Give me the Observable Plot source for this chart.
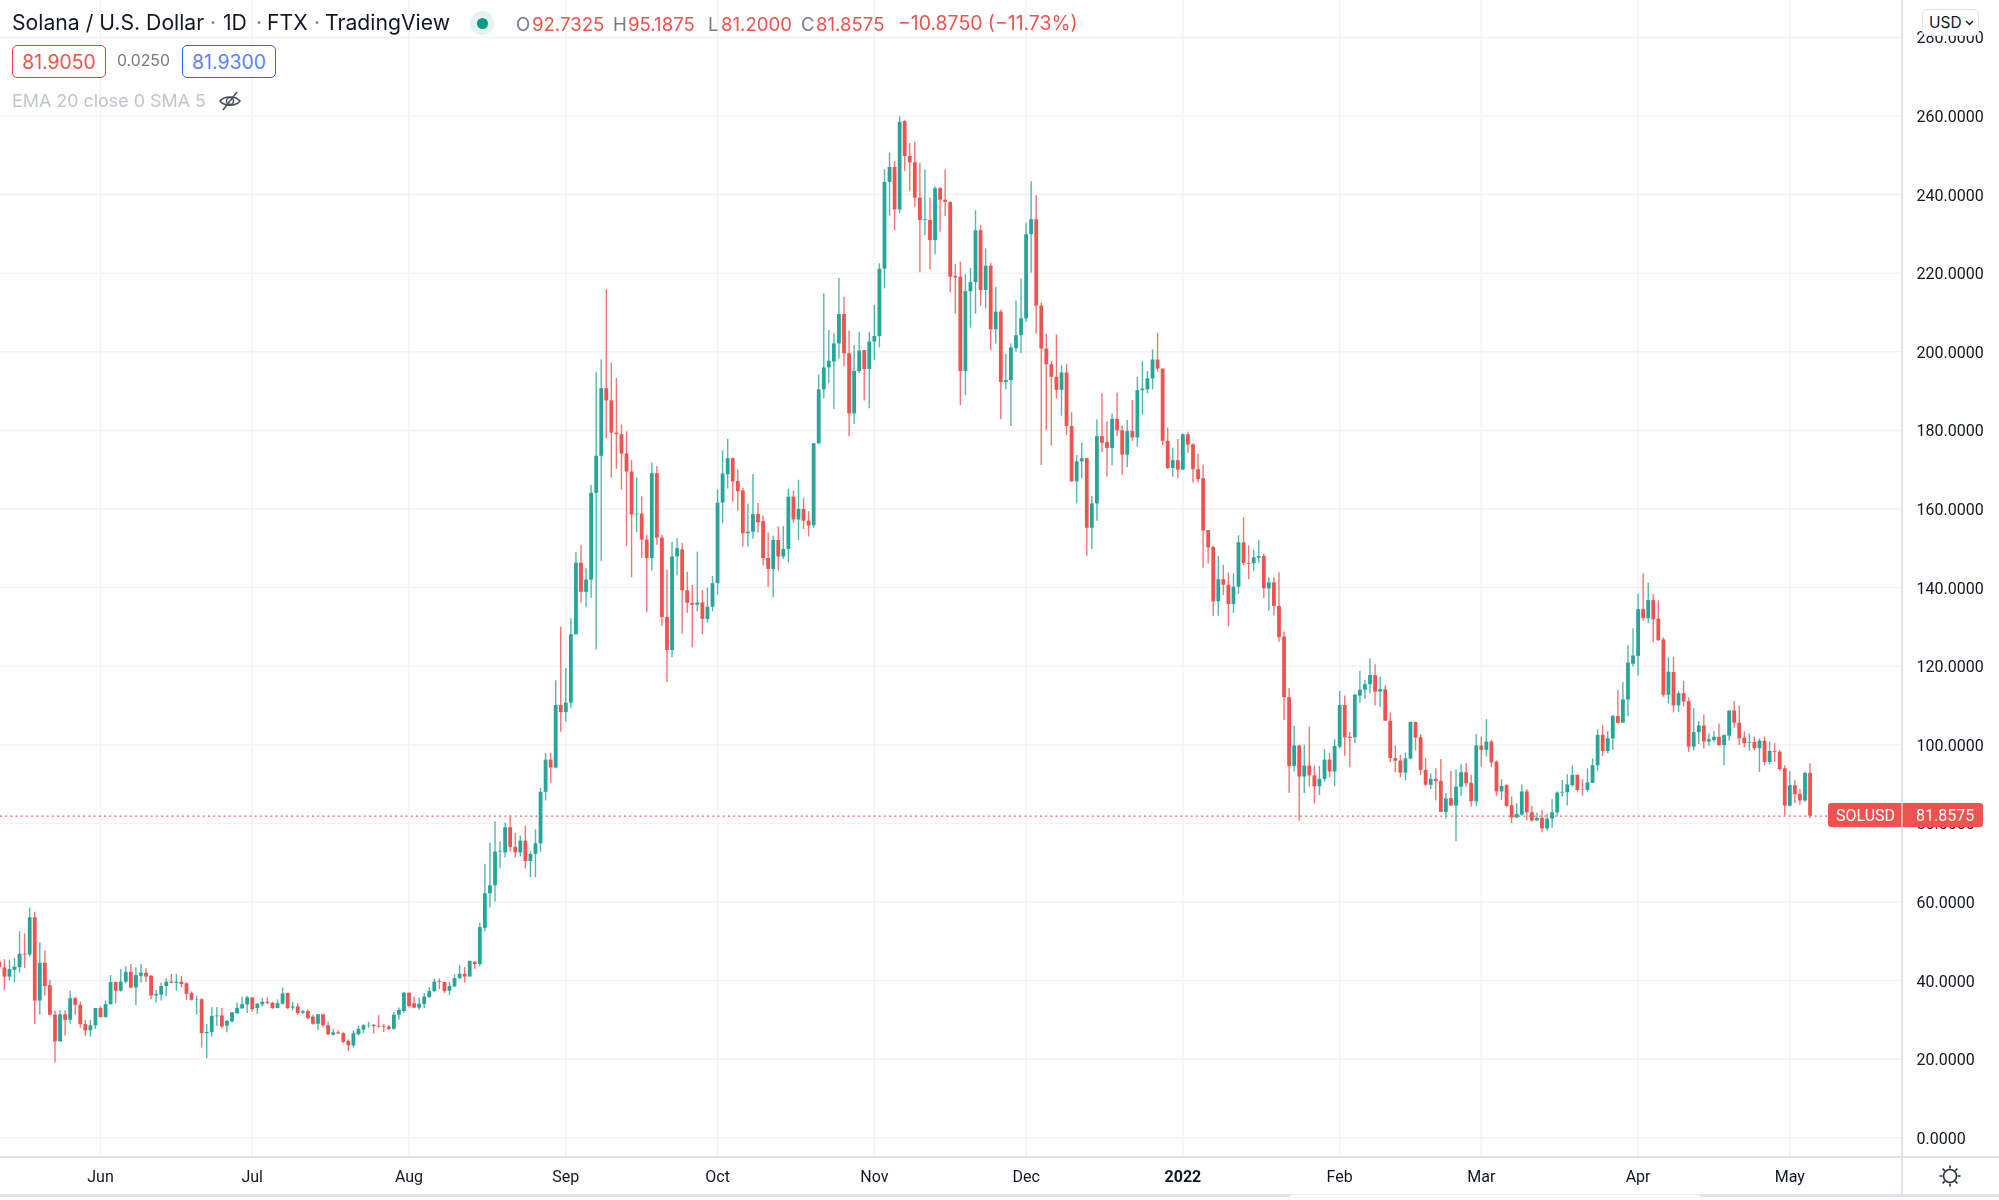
<!DOCTYPE html>
<html><head><meta charset="utf-8">
<script src="https://cdn.jsdelivr.net/npm/d3@7"></script>
<script src="https://cdn.jsdelivr.net/npm/@observablehq/plot@0.6"></script>
<style>
html,body{margin:0;padding:0;background:#fff;width:1999px;height:1200px;overflow:hidden}
#wrap{position:relative;width:1999px;height:1200px;font-family:Inter,Roboto,sans-serif;color:#131722;filter:blur(0.3px)}
#chart svg{display:block}
.t{position:absolute;white-space:nowrap;line-height:1}
.box{position:absolute;box-sizing:border-box;border-radius:5px;background:#fff;display:flex;align-items:center;justify-content:center;border:1.5px solid}
.ln{position:absolute;background:#e0e3eb}
</style></head><body><div id="wrap"><div id="chart"></div></div>
<script>
const firstDay = "2021-05-12";
const open = [
44.6,43.2,40.9,42.6,43.3,46.7,46.5,56.0,34.8,44.4,38.7,31.2,24.4,31.3,29.9,35.4,33.7,28.8,27.2,28.5,
32.9,30.6,33.9,39.5,37.3,39.6,42.1,38.1,41.1,41.9,41.1,36.1,36.3,38.5,39.6,39.3,39.6,39.2,36.7,35.0,35.1,26.5,26.8,30.8,31.0,28.4,29.5,31.6,32.8,33.8,
35.6,32.9,33.8,34.5,34.2,32.9,34.0,36.7,33.0,33.3,31.7,32.1,30.7,28.9,31.3,28.5,26.1,26.7,26.5,24.5,23.4,26.2,27.4,28.5,28.6,28.4,28.3,28.2,27.6,31.2,32.1,
36.8,34.1,33.0,33.9,35.7,37.2,39.7,39.5,37.3,38.4,40.5,41.6,40.9,44.7,44.1,53.3,62.1,64.1,72.7,72.5,78.9,73.9,72.5,75.5,70.3,72.1,74.8,87.9,96.1,94.1,110.0,
108.2,110.6,128.0,146.2,138.8,141.9,164.0,173.4,190.6,187.5,179.3,178.9,174.0,169.4,158.5,158.7,152.1,147.4,169.0,152.6,132.4,124.0,147.8,149.6,139.2,136.0,135.5,136.1,131.9,135.0,
141.0,161.5,168.7,172.8,167.0,164.6,153.7,154.1,158.6,156.8,147.4,144.6,152.0,147.8,149.7,163.0,157.2,159.9,156.9,155.7,176.6,190.3,195.9,197.4,202.0,209.5,199.5,184.2,195.0,200.3,195.5,
202.5,203.9,221.0,243.1,246.9,236.1,258.6,249.7,248.1,239.1,233.4,233.4,228.3,241.5,238.6,238.0,219.2,219.0,195.0,215.3,217.6,230.8,215.6,221.8,205.6,210.1,192.2,192.7,200.8,204.1,
208.4,229.8,233.6,211.6,200.7,196.7,193.5,190.2,194.6,181.0,166.9,172.0,172.8,155.1,161.3,178.4,176.9,175.4,182.8,179.9,173.7,179.7,178.1,190.1,190.3,193.1,197.9,195.6,177.2,170.3,172.3,
169.9,178.9,176.3,170.0,167.7,154.5,150.2,136.4,142.0,140.6,135.7,140.1,151.4,146.1,146.1,147.5,147.9,139.7,141.2,135.2,127.4,112.0,94.5,99.7,91.8,94.6,92.1,89.3,91.2,96.1,93.1,
99.4,110.0,101.9,101.8,112.4,113.9,115.3,117.6,113.4,114.0,106.0,96.5,95.9,92.8,96.4,105.7,101.8,93.5,89.7,91.2,90.7,82.8,86.3,84.4,89.2,92.9,90.2,85.5,
99.7,98.6,100.7,95.6,88.0,89.6,84.5,81.4,82.1,88.0,82.7,80.6,81.3,78.6,81.1,82.7,87.7,87.8,89.6,92.2,88.5,88.4,90.2,94.7,102.4,98.3,101.5,107.2,105.5,111.4,120.5,
122.5,134.4,132.1,136.7,132.0,126.7,112.6,118.4,109.9,113.0,111.0,99.4,103.1,104.8,100.7,101.1,101.9,99.8,102.2,108.6,105.5,101.7,100.4,100.6,99.0,100.9,95.5,98.3,98.1,93.9,
84.4,89.6,87.4,85.7,92.7325];
const high = [
45.2,45.3,45.2,45.6,52.4,51.9,58.5,57.4,49.6,47.5,40.1,32.3,32.3,32.3,37.3,35.7,34.5,29.9,29.9,32.9,
33.4,34.8,41.3,39.6,42.8,43.5,44.1,43.3,44.1,43.0,41.3,37.5,39.4,40.5,41.6,41.6,41.1,39.4,37.1,36.0,35.4,28.8,33.1,33.1,32.9,29.9,31.9,34.3,35.8,36.0,
35.6,34.1,35.4,35.6,34.5,35.1,38.1,36.8,34.4,34.1,32.4,32.6,31.2,31.3,31.3,29.4,27.6,27.3,26.7,24.9,27.2,28.4,28.8,29.4,28.8,31.1,28.9,28.6,31.9,33.0,37.0,
36.8,35.8,35.6,36.7,38.2,40.3,40.4,39.5,39.6,41.5,43.9,43.3,44.9,44.7,54.6,69.5,75.0,80.4,75.3,80.1,81.9,77.5,76.8,79.3,72.8,78.4,88.9,97.8,97.8,116.3,130.0,
119.4,132.1,148.9,150.7,144.8,166.0,194.7,198.0,215.8,197.1,193.2,181.4,179.6,172.3,167.9,163.1,153.3,171.7,170.8,153.3,144.5,151.5,152.4,151.3,143.9,140.6,149.0,139.2,139.9,142.8,
164.9,174.8,177.7,173.0,170.0,165.3,161.3,168.8,161.4,158.2,153.9,153.1,155.4,155.5,165.0,164.6,167.3,162.7,159.3,176.6,194.1,214.8,205.4,204.6,218.7,213.9,205.3,201.6,205.0,200.3,205.0,
211.8,222.4,246.3,250.6,248.4,259.8,258.8,253.0,253.3,248.0,246.3,239.1,242.0,241.8,246.3,238.2,222.3,222.8,219.6,221.2,235.9,232.1,226.2,222.5,216.4,210.6,199.3,202.0,212.9,218.5,
232.7,243.3,239.7,212.4,204.5,197.5,204.3,196.5,196.8,184.5,173.6,176.8,172.9,163.2,182.7,189.3,182.2,184.2,189.5,181.1,182.5,187.6,193.5,197.5,195.0,200.5,204.7,195.6,180.6,175.5,177.7,
179.1,179.5,176.6,173.9,171.2,154.5,150.6,147.9,145.7,143.7,143.5,153.2,157.8,150.6,149.5,152.0,148.5,142.5,142.5,143.8,128.7,114.3,104.7,99.9,99.9,104.5,94.6,94.5,98.8,97.7,101.3,
113.6,112.4,103.1,112.8,118.7,116.4,121.9,120.4,117.2,115.0,108.1,99.7,97.3,97.9,105.8,105.7,102.6,96.5,92.6,93.9,96.2,87.6,93.3,93.6,94.9,95.2,92.2,102.6,
102.0,106.4,101.1,95.9,91.1,89.8,86.7,85.0,89.8,88.6,84.3,82.6,83.3,82.3,86.0,88.0,90.9,92.4,94.6,92.4,91.1,93.9,96.4,103.8,104.9,103.4,107.5,113.8,115.8,125.3,129.5,
138.4,143.5,141.1,138.2,136.6,127.2,122.1,122.3,113.6,116.2,111.9,109.2,105.9,107.6,102.8,103.3,105.3,102.4,108.6,111.0,109.8,103.3,102.8,102.0,101.5,102.0,100.7,100.3,98.6,94.7,
93.2,90.9,88.6,93.0,95.1875];
const low = [
43.0,37.5,39.9,39.4,41.9,43.1,46.0,28.8,31.2,36.1,31.0,19.0,24.4,25.9,28.9,31.2,27.9,25.8,25.6,27.5,
30.5,30.4,33.7,34.1,37.1,39.2,37.9,33.6,39.4,39.6,35.1,34.3,34.8,36.0,39.2,37.3,38.2,35.0,34.8,31.2,22.9,20.1,25.6,28.4,27.8,26.7,29.2,31.3,32.8,31.6,
32.0,31.4,33.3,33.8,32.6,32.8,33.8,32.6,32.3,31.2,31.4,30.1,28.7,27.3,28.0,26.0,25.9,26.3,24.0,22.0,22.8,26.0,26.5,27.9,26.4,27.9,26.8,27.3,27.4,29.9,31.7,
33.1,32.9,32.4,32.9,35.5,37.0,37.7,36.7,36.2,38.2,40.3,39.4,40.9,42.8,43.5,52.4,58.5,60.0,68.4,71.2,72.8,71.2,71.5,68.4,66.2,66.2,72.7,85.7,90.2,93.9,103.2,
105.8,109.3,128.0,136.0,134.9,137.2,124.1,146.6,177.8,167.9,170.1,164.8,150.4,142.5,154.0,147.4,133.6,144.2,150.8,130.1,115.8,122.2,143.0,128.1,133.5,124.7,133.8,128.0,131.0,133.9,
138.1,156.3,165.1,161.7,159.4,150.3,150.3,152.3,153.9,145.5,140.0,137.4,144.2,147.2,146.3,156.3,152.0,154.8,152.9,155.1,176.4,188.0,191.9,185.3,198.1,196.2,178.4,181.5,194.4,187.5,185.5,
197.8,201.0,216.0,234.5,230.8,235.1,245.9,240.7,236.8,220.1,229.6,220.8,224.7,230.4,234.4,215.0,209.6,186.3,188.9,206.0,209.6,211.6,210.9,200.3,202.0,182.7,190.3,181.0,199.9,199.5,
207.5,220.0,204.5,171.1,180.0,176.0,188.0,183.6,178.7,166.9,161.3,167.7,148.0,149.7,156.9,174.4,168.1,171.1,178.4,168.5,170.5,177.2,175.7,183.9,189.3,190.3,194.8,176.1,170.0,168.1,167.7,
169.8,174.2,166.6,166.6,144.9,146.0,132.7,132.7,138.0,130.0,133.5,138.3,145.5,142.0,144.1,146.2,137.2,134.0,132.8,126.1,106.2,87.7,93.1,80.6,87.6,89.3,84.9,87.1,90.5,91.6,89.3,
99.0,97.1,94.1,100.3,110.5,111.5,113.0,109.9,109.4,106.0,95.4,92.9,91.6,90.8,96.2,98.4,92.2,89.4,88.6,85.7,82.8,81.1,84.4,75.4,86.9,89.2,84.2,84.3,
94.3,96.9,94.2,86.9,85.8,84.0,79.9,81.2,81.8,80.6,80.3,80.6,77.6,78.0,78.8,81.6,86.7,84.4,89.2,88.0,86.9,88.0,90.1,93.3,97.0,97.7,98.6,105.3,105.5,107.2,119.8,
117.5,131.5,130.8,126.0,126.3,112.1,110.4,108.1,108.2,109.6,98.1,98.4,100.1,98.9,99.6,100.7,99.6,94.7,100.9,104.2,99.8,99.2,98.4,98.4,93.0,94.7,94.9,95.6,93.3,81.9,
84.2,85.0,84.6,85.4,81.2];
const close = [
43.3,40.9,42.8,43.4,46.7,46.5,56.0,34.8,44.4,38.5,31.2,24.4,31.3,29.9,35.4,33.7,28.8,27.2,28.5,32.9,
30.6,33.9,39.5,37.3,39.6,42.1,38.1,41.3,41.9,40.9,36.1,36.5,38.5,39.6,39.3,39.6,39.0,36.5,35.0,35.1,26.5,26.8,30.9,31.0,28.2,29.6,31.8,32.9,33.9,35.6,
32.6,34.0,34.5,34.2,32.9,34.1,36.6,32.9,33.3,31.6,32.1,30.3,28.9,31.3,28.5,26.2,26.7,26.4,24.3,23.4,26.5,27.6,28.5,28.6,28.3,28.2,28.1,27.6,31.2,32.4,36.8,
33.4,33.0,34.0,35.8,37.2,39.6,39.5,37.2,38.5,40.5,41.6,40.9,44.9,44.1,53.5,62.1,64.1,72.7,72.9,78.9,73.9,72.5,75.5,70.3,72.1,74.8,87.9,96.1,94.1,110.0,108.2,
110.6,128.0,146.2,138.8,141.9,164.0,173.4,190.6,187.5,179.3,178.9,174.0,169.4,158.5,158.7,152.1,147.4,169.0,152.6,132.4,124.0,147.8,149.9,139.2,136.0,135.5,136.1,131.9,135.0,141.0,
161.5,168.9,172.8,166.9,164.4,153.7,154.1,158.6,156.5,147.4,144.6,152.0,147.8,149.7,163.0,157.2,159.9,156.9,155.7,176.6,190.3,195.9,197.6,202.0,209.5,199.5,184.2,195.0,200.2,195.5,202.5,
203.9,221.0,243.1,246.9,236.1,258.4,249.7,248.1,239.1,233.4,233.6,228.3,241.5,238.6,238.0,219.0,218.8,195.0,215.3,217.6,230.8,215.6,221.8,205.6,210.1,192.2,192.7,201.0,204.1,208.4,
229.8,233.6,211.6,200.7,196.7,193.5,190.2,194.6,181.0,166.9,172.0,172.8,155.1,161.3,178.4,176.7,175.4,182.8,179.9,173.7,179.7,178.1,190.1,190.5,193.1,197.9,195.6,177.2,170.3,172.3,169.9,
178.9,176.3,170.0,167.5,154.4,150.1,136.4,142.0,140.6,135.7,140.1,151.4,146.1,145.9,147.6,147.9,139.7,141.2,135.2,127.3,112.0,94.5,99.7,91.8,94.6,92.1,89.3,91.2,96.1,93.1,99.6,
110.0,101.8,101.6,112.6,113.9,115.3,117.6,113.4,114.0,106.0,96.5,95.8,92.8,96.4,105.7,101.7,93.5,89.7,91.2,90.6,82.8,86.2,84.4,89.2,92.9,90.1,85.5,99.7,
98.6,100.7,95.4,88.0,89.4,84.3,81.4,82.3,88.0,82.7,80.6,81.3,78.6,81.1,82.7,87.7,87.9,89.8,92.2,88.4,88.4,90.3,94.7,102.4,98.3,101.5,107.2,105.5,111.4,120.8,122.6,
134.4,132.1,136.7,131.8,126.5,112.6,118.5,109.9,113.0,110.9,99.4,103.1,104.8,100.7,101.3,101.9,99.8,102.4,108.6,105.5,101.5,100.3,100.6,99.0,100.9,95.5,98.3,98.1,93.7,84.4,
89.6,87.3,85.7,92.7,81.8575];
const priceTicks = [0,20,40,60,80,100,120,140,160,180,200,220,240,260,280];
const monthTicks = ["2021-06-01","2021-07-01","2021-08-01","2021-09-01","2021-10-01","2021-11-01","2021-12-01","2022-01-01","2022-02-01","2022-03-01","2022-04-01","2022-05-01"];
const monthLabels = ["Jun","Jul","Aug","Sep","Oct","Nov","Dec","2022","Feb","Mar","Apr","May"];
const lastPrice = 81.8575;

const UP = "#26a69a", DOWN = "#ef5350", GRID = "#f2f3f5";
const start = new Date(firstDay + "T00:00Z");
const candles = close.map((c, i) => ({
  date: d3.utcDay.offset(start, i), o: open[i], h: high[i], l: low[i], c,
  color: c >= open[i] ? UP : DOWN
}));
const months = monthTicks.map(d => new Date(d + "T00:00Z"));
const labelOf = new Map(months.map((d, i) => [+d, monthLabels[i]]));
const AXFONT = 16;

const chart = Plot.plot({
  width: 1999, height: 1200,
  marginLeft: 0, marginRight: 97, marginTop: 0, marginBottom: 44,
  style: {background: "transparent", fontFamily: "Roboto, sans-serif"},
  x: {type: "utc", domain: [new Date("2021-05-12T05:30Z"), new Date("2022-05-23T06:40Z")]},
  y: {domain: [-4.76, 289.39]},
  marks: [
    Plot.ruleY(priceTicks, {stroke: GRID, strokeWidth: 1.5}),
    Plot.ruleX(months, {stroke: GRID, strokeWidth: 1.5}),
    Plot.ruleY([lastPrice], {stroke: DOWN, strokeDasharray: "1.8,3.4", strokeWidth: 1.2}),
    Plot.ruleX(candles, {x: "date", y1: "l", y2: "h", stroke: "color", strokeWidth: 1.4, strokeOpacity: 0.8}),
    Plot.ruleX(candles, {x: "date", y1: "o", y2: "c", stroke: "color", strokeWidth: 3.8}),
    Plot.axisY({anchor: "right", ticks: priceTicks, tickSize: 0, tickPadding: 14, label: null, dy: 0.8,
      tickFormat: d => d.toFixed(4), fontSize: AXFONT, color: "#131722"}),
    Plot.axisX({anchor: "bottom", ticks: months.filter(d => labelOf.get(+d) !== "2022"), tickSize: 0, tickPadding: 14, label: null,
      tickFormat: d => labelOf.get(+d), fontSize: AXFONT, color: "#131722"}),
    Plot.axisX({anchor: "bottom", ticks: months.filter(d => labelOf.get(+d) === "2022"), tickSize: 0, tickPadding: 14, label: null,
      tickFormat: d => labelOf.get(+d), fontSize: AXFONT, fontWeight: "bold", color: "#131722"})
  ]
});
document.getElementById("chart").append(chart);

const wrap = document.getElementById("wrap");
function add(html){ wrap.insertAdjacentHTML("beforeend", html); }
function text(s, x, y, size, color, extra=""){ add(`<div class="t" style="left:${x}px;top:${y}px;font-size:${size}px;color:${color};transform:translateY(-50%);${extra}">${s}</div>`); }

// panel separators
add(`<div class="ln" style="left:1901px;top:0;width:2px;height:1196px"></div>`);
add(`<div class="ln" style="left:0;top:1155.5px;width:1999px;height:2px"></div>`);
add(`<div class="ln" style="left:0;top:1194px;width:1999px;height:3px"></div>`);
add(`<div style="position:absolute;left:1288px;top:1194px;width:415px;height:6px;background:#fff;border:1px solid #eceef2;border-bottom:0;border-radius:6px 6px 0 0;box-sizing:border-box"></div>`);

// header
const TITLE = "#131722", GR = "#787b86";
const TS = 21.2;
text("Solana / U.S. Dollar", 12, 23, TS, TITLE);
text("·", 210, 23, TS, GR);
text("1D", 223, 23, TS, TITLE);
text("·", 256, 23, TS, GR);
text("FTX", 267, 23, TS, TITLE);
text("·", 314, 23, TS, GR);
text("TradingView", 325, 23, TS, TITLE);
add(`<div style="position:absolute;left:470px;top:11px;width:24px;height:24px;border-radius:50%;background:#e3f3f0"></div>`);
add(`<div style="position:absolute;left:476.5px;top:17.5px;width:11px;height:11px;border-radius:50%;background:#089981"></div>`);
const OH = 18.6;
text("O", 516, 24, OH, GR); text("92.7325", 532, 24, OH, DOWN);
text("H", 613, 24, OH, GR); text("95.1875", 628, 24, OH, DOWN);
text("L", 708, 24, OH, GR); text("81.2000", 721, 24, OH, DOWN);
text("C", 801, 24, OH, GR); text("81.8575", 816, 24, OH, DOWN);
text("−10.8750 (−11.73%)", 898, 24, 19.4, DOWN);

add(`<div class="box" style="left:12px;top:45px;width:94px;height:33px;border-color:#f23645;color:#ef5350;font-size:19.4px">81.9050</div>`);
text("0.0250", 117, 61, 15.8, GR);
add(`<div class="box" style="left:182px;top:45px;width:94px;height:33px;border-color:#2962ff;color:#5a82f5;font-size:19.4px">81.9300</div>`);
text("EMA 20 close 0 SMA 5", 12, 101, 17.9, "#c1c4cd");
add(`<svg style="position:absolute;left:217px;top:88px" width="26" height="26" viewBox="0 0 26 26" fill="none" stroke="#4a4e59" stroke-width="1.5">
<path d="M3 13 C7 7.5 19 7.5 23 13 C19 18.5 7 18.5 3 13Z"/><circle cx="13" cy="13" r="3.5"/><path d="M20 4 L6 22"/></svg>`);

// USD button
add(`<div class="box" style="left:1922px;top:9px;width:57px;height:27px;border:1.5px solid #e0e3eb;color:#131722;font-size:15.5px;justify-content:flex-start;padding-left:6px">USD<svg width="9" height="6" viewBox="0 0 9 6" style="margin-left:3px" fill="none" stroke="#131722" stroke-width="1.4"><path d="M1 1 L4.5 4.5 L8 1"/></svg></div>`);

// last-price badge
add(`<div style="position:absolute;left:1828px;top:803px;width:155px;height:24px;background:#ef5350;border-radius:3px"></div>`);
add(`<div style="position:absolute;left:1900.5px;top:803px;width:2px;height:24px;background:#f7a9a7"></div>`);
text("SOLUSD", 1836, 815.5, 16, "#fff", "font-family:Roboto,sans-serif");
text("81.8575", 1916, 815.5, 16, "#fff", "font-family:Roboto,sans-serif");

// settings icon
add(`<svg style="position:absolute;left:1936px;top:1162px" width="28" height="28" viewBox="0 0 28 28" fill="none" stroke="#2a2e39" stroke-width="1.6">
<circle cx="14" cy="14" r="6.5"/><path d="M14 3.5V6.5M14 21.5V24.5M3.5 14H6.5M21.5 14H24.5M6.6 6.6L8.7 8.7M19.3 19.3L21.4 21.4M6.6 21.4L8.7 19.3M19.3 8.7L21.4 6.6"/></svg>`);
</script></body></html>
